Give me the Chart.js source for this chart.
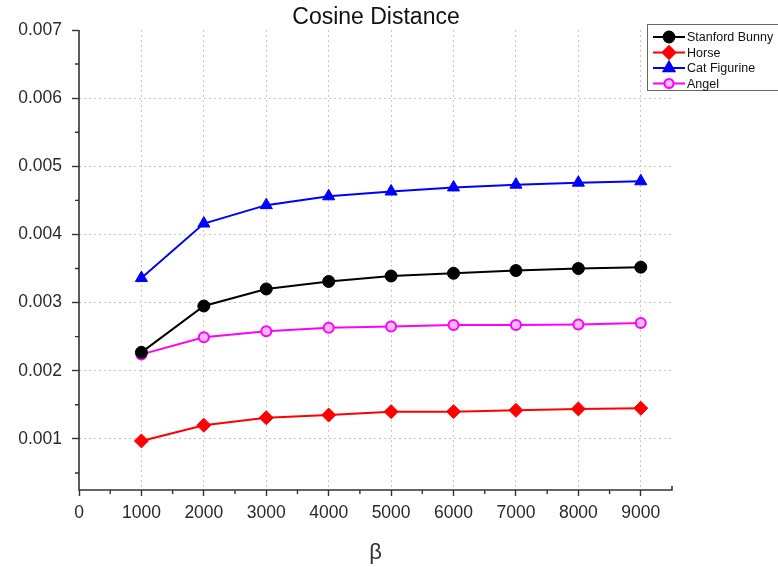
<!DOCTYPE html>
<html>
<head>
  <script src="https://cdn.jsdelivr.net/npm/chart.js"></script>
  <style>
    body { margin: 0; padding: 0; background: #fff; }
    #wrap { width: 778px; height: 567px; }
  </style>
</head>
<body>
  <div id="wrap"><canvas id="cosChart" width="778" height="567"></canvas></div>
  <script>
    // values
    const betaValues = [1000, 2000, 3000, 4000, 5000, 6000, 7000, 8000, 9000];
    const bunnyValues = [0.00227, 0.00295, 0.00320, 0.00331, 0.00339, 0.00343, 0.00347, 0.00350, 0.00352];
    const horseValues = [0.00097, 0.00120, 0.00131, 0.00135, 0.00140, 0.00140, 0.00142, 0.00144, 0.00145];
    const catValues = [0.00336, 0.00416, 0.00443, 0.00456, 0.00463, 0.00469, 0.00473, 0.00476, 0.00478];
    const angelValues = [0.00224, 0.00249, 0.00258, 0.00263, 0.00265, 0.00267, 0.00267, 0.00268, 0.00270];

    const xTickValues = [0, 1000, 2000, 3000, 4000, 5000, 6000, 7000, 8000, 9000];
    const yTickValues = [0.001, 0.002, 0.003, 0.004, 0.005, 0.006, 0.007];
    const seriesNames = ['Stanford Bunny', 'Horse', 'Cat Figurine', 'Angel'];

    const FONT = "'Liberation Sans', Arial, sans-serif";

    function pts(vals) {
      return vals.map((v, i) => ({ x: betaValues[i], y: v }));
    }

    // title, minor ticks, axis lines and the boxed legend
    const decorPlugin = {
      id: 'decor',
      afterDraw(chart) {
        const ctx = chart.ctx;
        const area = chart.chartArea;
        const xs = chart.scales.x, ys = chart.scales.y;
        ctx.save();

        ctx.fillStyle = '#111';
        ctx.font = '23px ' + FONT;
        ctx.textAlign = 'center';
        ctx.textBaseline = 'middle';
        ctx.fillText('Cosine Distance', 376, 18);

        ctx.strokeStyle = '#333';
        ctx.lineWidth = 1.6;
        ctx.beginPath();
        ctx.moveTo(area.left, area.top);
        ctx.lineTo(area.left, area.bottom);
        ctx.lineTo(area.right, area.bottom);
        ctx.lineTo(area.right, area.bottom - 4);
        ctx.stroke();

        // minor ticks
        ctx.lineWidth = 1.4;
        ctx.beginPath();
        for (let v = 500; v < 9500; v += 1000) {
          const px = xs.getPixelForValue(v);
          ctx.moveTo(px, area.bottom);
          ctx.lineTo(px, area.bottom + 4);
        }
        for (let v = 0.0005; v < 0.007; v += 0.001) {
          const py = ys.getPixelForValue(v);
          ctx.moveTo(area.left, py);
          ctx.lineTo(area.left - 4, py);
        }
        ctx.stroke();

        // legend box
        const lx = 647, ly = 24, lw = 140, lh = 66;
        ctx.fillStyle = '#fff';
        ctx.fillRect(lx, ly, lw, lh);
        ctx.strokeStyle = '#666';
        ctx.lineWidth = 1;
        ctx.strokeRect(lx + 0.5, ly + 0.5, lw, lh);
        ctx.font = '12.5px ' + FONT;
        ctx.textAlign = 'left';
        chart.data.datasets.forEach((ds, i) => {
          const y = ly + 13 + i * 15.5;
          ctx.strokeStyle = ds.borderColor;
          ctx.lineWidth = 2;
          ctx.beginPath();
          ctx.moveTo(lx + 6, y);
          ctx.lineTo(lx + 38, y);
          ctx.stroke();
          ctx.fillStyle = ds.pointBackgroundColor;
          ctx.strokeStyle = ds.borderColor;
          Chart.helpers.drawPoint(ctx, {
            pointStyle: ds.pointStyle,
            radius: ds.pointRadius * 0.9,
            borderWidth: ds.pointBorderWidth,
            rotation: 0
          }, lx + 22, y);
          ctx.fillStyle = '#111';
          ctx.fillText(ds.label, lx + 40, y + 1);
        });
        ctx.restore();
      }
    };

    const ctx = document.getElementById('cosChart').getContext('2d');
    new Chart(ctx, {
      type: 'line',
      data: {
        datasets: [
          {
            label: seriesNames[0], data: pts(bunnyValues),
            borderColor: '#000', pointBackgroundColor: '#000',
            pointStyle: 'circle', pointRadius: 6, pointBorderWidth: 1
          },
          {
            label: seriesNames[1], data: pts(horseValues),
            borderColor: '#ff0000', pointBackgroundColor: '#ff0000',
            pointStyle: 'rectRot', pointRadius: 7, pointBorderWidth: 1
          },
          {
            label: seriesNames[2], data: pts(catValues),
            borderColor: '#0000ff', pointBackgroundColor: '#0000ff',
            pointStyle: 'triangle', pointRadius: 7, pointBorderWidth: 1
          },
          {
            label: seriesNames[3], data: pts(angelValues),
            borderColor: '#ff00ff', pointBackgroundColor: '#ffb8ff',
            pointStyle: 'circle', pointRadius: 5, pointBorderWidth: 2
          }
        ]
      },
      options: {
        responsive: false,
        animation: false,
        layout: { padding: { top: 30, right: 106, left: 0, bottom: 0 } },
        elements: { line: { borderWidth: 2, tension: 0 } },
        plugins: {
          legend: { display: false },
          title: { display: false },
          tooltip: { enabled: false }
        },
        scales: {
          x: {
            type: 'linear',
            min: 0,
            max: 9500,
            afterBuildTicks: s => { s.ticks = xTickValues.map(v => ({ value: v })); },
            afterFit: s => { s.height = 77; },
            border: { display: false, dash: [2, 3] },
            grid: {
              color: c => c.tick && c.tick.value === 0 ? 'rgba(0,0,0,0)' : '#c8c8c8',
              tickColor: '#333',
              tickLength: 6,
              tickWidth: 1.4
            },
            ticks: {
              color: '#2a2a2a',
              font: { family: FONT, size: 17.5 },
              padding: 7,
              maxRotation: 0,
              callback: v => String(v)
            },
            title: {
              display: true,
              text: 'β',
              color: '#333',
              font: { family: FONT, size: 22 },
              padding: { top: 4, bottom: 1 }
            }
          },
          y: {
            min: 0.00025,
            max: 0.007,
            afterBuildTicks: s => { s.ticks = yTickValues.map(v => ({ value: v })); },
            afterFit: s => { s.width = 79; },
            border: { display: false, dash: [2, 3] },
            grid: {
              color: c => c.tick && c.tick.value >= 0.007 ? 'rgba(0,0,0,0)' : '#c8c8c8',
              tickColor: '#333',
              tickLength: 7,
              tickWidth: 1.4
            },
            ticks: {
              color: '#2a2a2a',
              font: { family: FONT, size: 17.5 },
              padding: 10,
              callback: v => v.toFixed(3)
            }
          }
        }
      },
      plugins: [decorPlugin]
    });
  </script>
</body>
</html>
